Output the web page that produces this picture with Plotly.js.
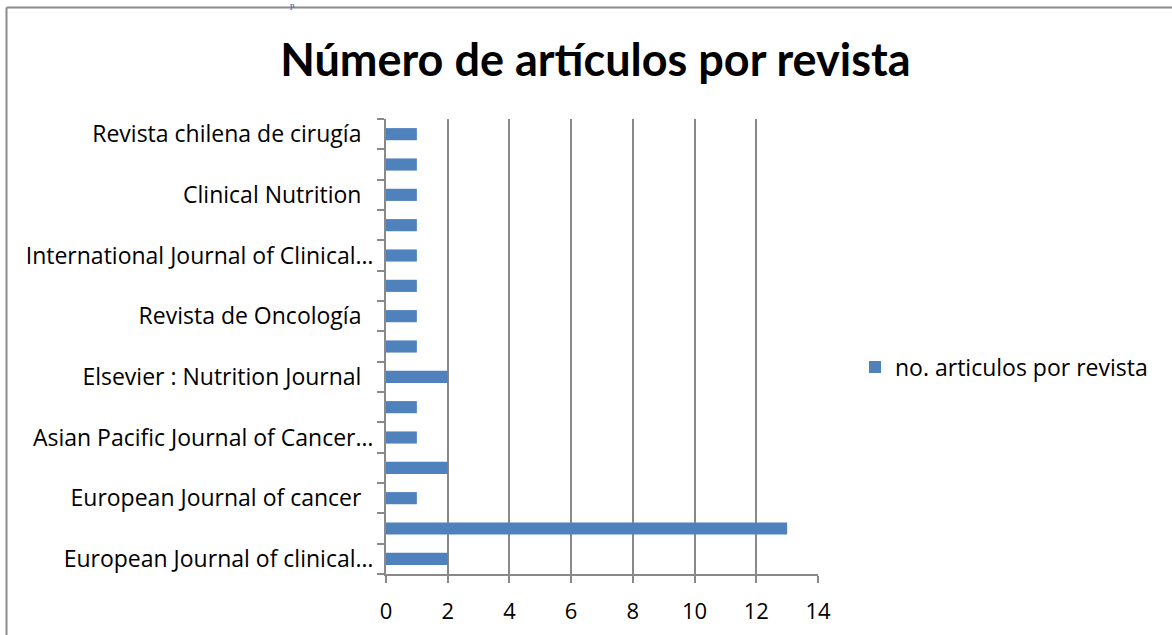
<!DOCTYPE html>
<html>
<head>
<meta charset="utf-8">
<script src="https://cdn.plot.ly/plotly-3.0.1.min.js"></script>
<style>html,body{margin:0;padding:0;background:#fff;}#chart{width:1172px;height:635px;}</style>
</head>
<body>
<div id="chart"></div>
<script>
// Data (bottom to top)
const journals = [
  "European Journal of clinical…",
  "",
  "European Journal of cancer\u00a0\u00a0",
  "",
  "Asian Pacific Journal of Cancer…",
  "",
  "Elsevier : Nutrition Journal\u00a0\u00a0",
  "",
  "Revista de Oncología\u00a0\u00a0",
  "",
  "International Journal of Clinical…",
  "",
  "Clinical Nutrition\u00a0\u00a0",
  "",
  "Revista chilena de cirugía\u00a0\u00a0"
];
const articles = [2, 13, 1, 2, 1, 1, 2, 1, 1, 1, 1, 1, 1, 1, 1];
const seriesName = "no. articulos por revista";
const chartTitle = "Número de artículos por revista";
const xTicks = [0, 2, 4, 6, 8, 10, 12, 14];

const W = 1172, H = 635;
const M = {l: 386, r: 354, t: 119, b: 61};
const pw = W - M.l - M.r, ph = H - M.t - M.b;
const px2x = p => (p - M.l) / pw;
const py2y = p => (H - M.b - p) / ph;

const pos = journals.map((_, i) => i);
const labeledVals = pos.filter(i => journals[i] !== "");
const labeledText = labeledVals.map(i => journals[i]);

const gray = "#898989";
const font = "'Open Sans', 'Noto Sans', sans-serif";
const titleFont = "Lato, 'Open Sans', sans-serif";

const trace = {
  type: "bar",
  orientation: "h",
  x: articles,
  y: pos,
  name: seriesName,
  marker: {color: "#4f81bd"},
  showlegend: true,
  hoverinfo: "x"
};

const layout = {
  width: W, height: H,
  margin: M,
  paper_bgcolor: "#fff",
  plot_bgcolor: "#fff",
  bargap: 0.6,
  font: {family: font, size: 23, color: "#000"},
  title: {
    text: "<b>" + chartTitle + "</b>",
    font: {family: titleFont, size: 45, color: "#000"},
    x: 0.508, xanchor: "center",
    y: 1 - 60 / H, yanchor: "middle", yref: "container"
  },
  xaxis: {
    range: [0, 14],
    tickvals: xTicks,
    ticktext: xTicks.map(String),
    showgrid: true, gridcolor: gray, gridwidth: 2,
    zeroline: false,
    showline: true, linecolor: gray, linewidth: 2,
    ticks: "outside", ticklen: 7, tickcolor: gray, tickwidth: 2,
    ticklabelstandoff: 10,
    tickfont: {family: font, size: 22, color: "#000"},
    fixedrange: true
  },
  yaxis: {
    range: [-0.5, journals.length - 0.5],
    tickvals: labeledVals,
    ticktext: labeledText,
    ticks: "",
    showgrid: false, zeroline: false,
    showline: true, linecolor: gray, linewidth: 2,
    minor: {ticks: "outside", tick0: -0.5, dtick: 1, ticklen: 7, tickcolor: gray, tickwidth: 2, showgrid: false},
    ticklabelstandoff: 6,
    tickfont: {family: font, size: 23, color: "#000"},
    fixedrange: true
  },
  legend: {
    x: px2x(855), y: py2y(367), xanchor: "left", yanchor: "middle",
    xref: "paper", yref: "paper",
    font: {family: font, size: 23, color: "#000"},
    bgcolor: "rgba(0,0,0,0)",
    itemwidth: 30
  },
  shapes: [
    {type: "line", xref: "paper", yref: "paper", x0: px2x(6.5), x1: px2x(6.5), y0: py2y(7.5), y1: py2y(H + 5), line: {color: "#8c8c8c", width: 2}},
    {type: "line", xref: "paper", yref: "paper", x0: px2x(6.5), x1: px2x(W + 5), y0: py2y(7.5), y1: py2y(7.5), line: {color: "#8c8c8c", width: 2}}
  ],
  annotations: [
    {text: "<b>p</b>", xref: "paper", yref: "paper", x: px2x(292), y: py2y(0), xanchor: "center", yanchor: "top", showarrow: false, borderpad: 0, font: {family: "'Liberation Serif', serif", size: 8, color: "#4f81bd"}}
  ]
};

Plotly.newPlot("chart", [trace], layout, {displayModeBar: false, staticPlot: true});
</script>
</body>
</html>
